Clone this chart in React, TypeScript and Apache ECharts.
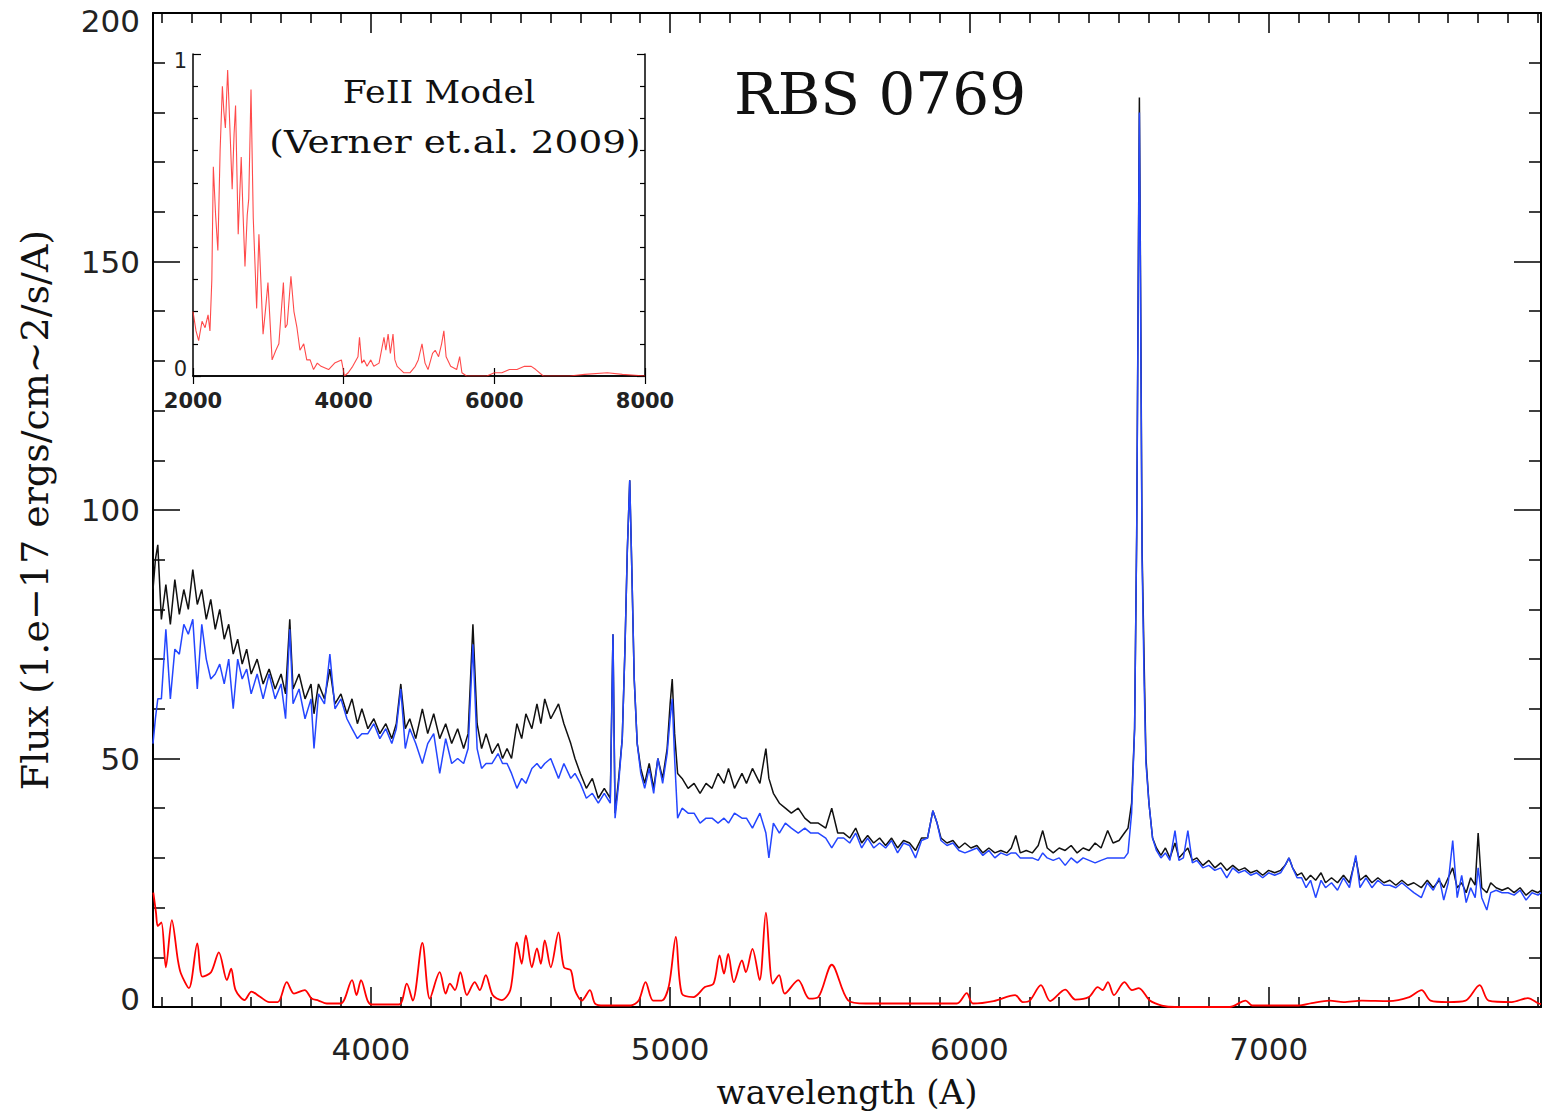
import React, { useEffect, useRef } from "react";
import * as echarts from "echarts";

// Observed spectrum (black) and FeII-subtracted spectrum (blue), flux in 1e-17 erg/cm2/s/A
const wavelength = [
  3272, 3280, 3288, 3300, 3315, 3330, 3345, 3360, 3375, 3390,
  3405, 3420, 3435, 3450, 3465, 3480, 3495, 3510, 3525, 3540,
  3555, 3570, 3585, 3600, 3620, 3640, 3660, 3680, 3700, 3715,
  3729, 3740, 3760, 3780, 3800, 3810, 3825, 3845, 3863, 3880,
  3900, 3920, 3937, 3955, 3970, 3990, 4010, 4030, 4050, 4070,
  4085, 4100, 4115, 4130, 4150, 4172, 4190, 4210, 4230, 4250,
  4270, 4290, 4310, 4325, 4341, 4355, 4370, 4385, 4405, 4425,
  4440, 4455, 4470, 4488, 4504, 4518, 4538, 4555, 4568, 4581,
  4601, 4627, 4645, 4668, 4682, 4700, 4720, 4740, 4760, 4780,
  4800, 4809, 4816, 4828, 4840, 4849, 4857, 4865, 4872, 4880,
  4890, 4902, 4915, 4930, 4945, 4959, 4975, 4990, 5000, 5007,
  5015, 5025, 5040, 5060, 5080, 5100, 5120, 5140, 5160, 5180,
  5195, 5215, 5240, 5255, 5275, 5300, 5320, 5330, 5345, 5365,
  5385, 5405, 5428, 5450, 5470, 5495, 5520, 5540, 5560, 5580,
  5600, 5620, 5640, 5660, 5680, 5700, 5720, 5740, 5760, 5780,
  5800, 5820, 5840, 5860, 5878, 5892, 5905, 5925, 5945, 5965,
  5985, 6005, 6025, 6045, 6065, 6085, 6105, 6125, 6140, 6155,
  6170, 6190, 6210, 6230, 6245, 6260, 6280, 6300, 6320, 6340,
  6360, 6380, 6400, 6420, 6440, 6462, 6480, 6500, 6518, 6530,
  6542, 6552, 6559, 6564, 6568, 6572, 6577, 6584, 6590, 6600,
  6612, 6625, 6640, 6655, 6670, 6687, 6700, 6715, 6730, 6745,
  6760, 6780, 6800, 6820, 6840, 6860, 6880, 6900, 6920, 6940,
  6960, 6980, 7000, 7020, 7040, 7055, 7068, 7080, 7095, 7110,
  7125, 7140, 7157, 7175, 7190, 7210, 7230, 7250, 7270, 7291,
  7305, 7325, 7345, 7365, 7385, 7405, 7425, 7445, 7465, 7485,
  7510, 7530, 7550, 7570, 7585, 7600, 7615, 7630, 7645, 7660,
  7675, 7690, 7700, 7712, 7729, 7742, 7760, 7780, 7800, 7820,
  7840, 7860, 7880, 7900, 7910,
];

const fluxObserved = [
  84, 90, 93, 78, 85, 77, 86, 79, 84, 80,
  88, 81, 84, 78, 82, 76, 80, 74, 77, 71,
  74, 69, 72, 67, 70, 65, 68, 64, 67, 63,
  78, 64, 67, 62, 65, 59, 65, 62, 68, 61,
  63, 59, 62, 57, 60, 56, 58, 55, 57, 54,
  57, 65, 56, 58, 54, 60, 55, 59, 54, 57,
  53, 56, 52, 55, 77, 57, 52, 55, 51, 53,
  50, 52, 50, 57, 54, 59, 56, 61, 57, 62,
  58, 61, 57, 53, 50, 47, 44, 46, 42, 44,
  42, 75, 39, 46, 54, 72, 92, 106, 88, 66,
  53, 48, 45, 49, 44, 50, 46, 52, 61, 66,
  55, 47, 46, 44, 45, 43, 45, 44, 47, 45,
  48, 44, 47, 45, 48, 45, 52, 46, 43, 41,
  40, 39, 40, 38, 37, 37, 36, 40, 35, 35,
  34, 36, 33, 34.5, 33, 34, 32.5, 34, 32, 33.5,
  33, 31.5, 34, 34, 39.5, 37, 34, 33, 33.5, 32,
  33, 32, 32.5, 31, 32, 31, 31.5, 31, 32, 34.5,
  31, 31.5, 31, 32.5, 35.5, 32, 31, 32, 31.5, 32.5,
  31, 32, 31.5, 33, 32, 35.5, 33, 33.5, 35, 36,
  41, 56, 95, 145, 183, 145, 92, 69, 50, 41,
  34, 32, 30.5, 32, 30, 33, 30, 31, 32, 29.5,
  30, 28.5, 29.5, 28, 29, 27.5, 28.5, 27.5, 28, 27,
  27.5, 26.5, 27.5, 27, 27.5, 28.5, 30, 28, 26.5, 27,
  25.5, 26.5, 25.5, 27, 25, 26, 25, 26.5, 25, 30,
  25.5, 26.5, 25, 26, 25, 25.5, 24.5, 25.5, 24.5, 25,
  24, 25.5, 24, 25.5, 24, 26, 28, 24, 25, 23,
  26, 24.5, 35, 24, 23, 25, 24, 23.5, 24, 23,
  24, 22.5, 23.5, 23, 23.5,
];

const fluxSubtracted = [
  53, 58, 62, 62, 76, 62, 72, 71, 77, 75,
  78, 64, 77, 70, 66, 67, 69, 65, 70, 60,
  70, 66, 68, 63, 67, 62, 67, 62, 65, 58,
  76, 61, 64, 58, 62, 52, 63, 61, 71, 60,
  62, 58, 56, 54, 55, 55, 57, 54, 56, 53,
  56, 64, 52, 56, 53, 49, 53, 55, 47, 54,
  49, 50, 49, 52, 73, 52, 48, 49, 49, 51,
  49, 49, 47, 44, 46, 45, 48, 49, 48, 49,
  50, 46, 49, 46, 47, 45, 42, 43, 41, 43,
  41, 75, 38, 45, 54, 72, 92, 106, 88, 66,
  53, 47, 44, 48, 43, 50, 45, 51, 58, 62,
  50, 38, 40, 39, 39, 37, 38, 38, 37, 38,
  37, 39, 38, 38, 36, 39, 35, 30, 37, 35,
  37, 36, 35, 36, 35, 35, 34, 32, 34, 34,
  33, 35, 32, 34, 32, 33, 32, 33.5, 31, 33,
  32.5, 30, 33.5, 34, 39.5, 37, 33.5, 32.5, 33, 31.5,
  31, 31.5, 32, 30.5, 31.5, 30, 31, 30.5, 31, 31,
  30, 30, 30, 29.5, 31, 30, 29.5, 30, 28.5, 30,
  29, 30, 29.5, 29, 29.5, 30, 30, 30, 30, 31,
  39, 56, 95, 143, 180, 142, 90, 65, 49, 41,
  34, 31.5, 30, 31, 29.5, 35.5, 29.5, 30, 35.5, 29,
  29.5, 28, 28.5, 27.5, 28, 26, 28, 27, 27.5, 26.5,
  27, 26, 27, 26.5, 27, 28.5, 30, 28, 26, 26,
  24, 25.5, 22, 25.5, 24, 25, 23.5, 26, 24, 30.5,
  24, 26, 24, 25.5, 24.5, 24.5, 24, 25, 24, 23,
  22, 25, 23.5, 26, 21.5, 25, 33.5, 22, 26.5, 21,
  24, 22, 28, 22, 19.5, 23, 23.5, 23, 23, 22.5,
  23.5, 21.5, 23, 22.5, 23,
];

// FeII template fit (red, bottom of main panel)
const feiiWave = [
  3273, 3282, 3288, 3300, 3315, 3335, 3355, 3365, 3392, 3420,
  3437, 3466, 3492, 3519, 3533, 3548, 3578, 3601, 3631, 3660,
  3689, 3719, 3743, 3779, 3802, 3825, 3853, 3900, 3937, 3952,
  3967, 3989, 4003, 4094, 4120, 4140, 4172, 4197, 4230, 4250,
  4264, 4281, 4299, 4321, 4347, 4364, 4384, 4407, 4437, 4466,
  4488, 4504, 4518, 4538, 4555, 4568, 4581, 4601, 4627, 4645,
  4668, 4682, 4705, 4732, 4749, 4779, 4869, 4895, 4918, 4943,
  4972, 4996, 5019, 5039, 5078, 5116, 5145, 5165, 5180, 5194,
  5213, 5240, 5253, 5275, 5299, 5320, 5343, 5364, 5383, 5428,
  5465, 5495, 5540, 5594, 5654, 5958, 5991, 6012, 6081, 6153,
  6178, 6202, 6239, 6270, 6320, 6354, 6399, 6429, 6445, 6463,
  6483, 6518, 6543, 6566, 6603, 6643, 6687, 6870, 6923, 6945,
  7100, 7144, 7204, 7250, 7311, 7401, 7470, 7511, 7541, 7598,
  7658, 7705, 7735, 7812, 7866, 7902, 7910,
];
const feiiFlux = [
  23, 19, 16.3, 17, 8, 17.5, 9.5, 6.8, 3.8, 12.8,
  6.1, 7, 11, 5.4, 7.7, 3.4, 1.4, 3.1, 2, 1,
  1, 5, 2.7, 3.4, 1.7, 1.3, 0.7, 0.7, 5.4, 2.4,
  5.4, 1.3, 0.5, 0.5, 4.7, 1.3, 12.9, 1.7, 7, 2.7,
  4.7, 3.4, 7, 2.4, 5, 3.4, 6.4, 2.4, 1.4, 3.4,
  13, 8.7, 14.4, 8, 11.8, 8.7, 13.4, 8, 15, 8,
  7.4, 3.4, 1.3, 3.4, 0.7, 0.3, 0.3, 1.3, 5, 1.3,
  1.3, 4.3, 14.1, 2.7, 2, 4, 4.7, 10.4, 6.7, 10.7,
  5, 9.4, 7, 11.7, 5.4, 19, 4.7, 6.4, 2.7, 5.4,
  1.7, 2, 8.5, 1.4, 0.7, 0.7, 2.8, 0.7, 1.2, 2.4,
  1, 1.3, 4.4, 1.2, 3.5, 1.5, 2, 4, 3.4, 5,
  2.4, 5, 3.4, 3.8, 1.3, 0.3, 0, 0, 1.3, 0.3,
  0.3, 0.8, 1.3, 1, 1.3, 1.2, 2, 3.4, 1.3, 1,
  1.3, 4.4, 1.3, 1, 1.8, 0.7, 0.6,
];

// Inset: FeII model (Verner et al. 2009), normalised
const insetWave = [
  2000, 2040, 2075, 2120, 2160, 2200, 2225, 2250, 2270, 2300,
  2330, 2360, 2390, 2410, 2430, 2460, 2490, 2520, 2545, 2565,
  2600, 2640, 2665, 2690, 2720, 2740, 2770, 2800, 2845, 2875,
  2900, 2930, 2960, 2995, 3050, 3100, 3140, 3200, 3225, 3250,
  3300, 3340, 3380, 3420, 3470, 3510, 3555, 3600, 3650, 3700,
  3800, 3880, 3970, 4010, 4060, 4120, 4190, 4210, 4240, 4270,
  4310, 4360, 4400, 4470, 4535, 4560, 4590, 4620, 4655, 4680,
  4710, 4800, 4880, 4950, 4990, 5040, 5080, 5120, 5180, 5215,
  5260, 5300, 5330, 5360, 5420, 5500, 5540, 5570, 5630, 5900,
  6000, 6100, 6200, 6300, 6400, 6490, 6550, 6650, 7000, 7200,
  7500, 7700, 8000,
];
const insetFlux = [
  0.2, 0.14, 0.11, 0.17, 0.15, 0.19, 0.14, 0.3, 0.65, 0.5,
  0.39, 0.7, 0.9, 0.82, 0.77, 0.95, 0.77, 0.58, 0.75, 0.84,
  0.44, 0.68, 0.5, 0.34, 0.5, 0.55, 0.89, 0.49, 0.21, 0.44,
  0.3, 0.13, 0.2, 0.29, 0.05, 0.08, 0.1, 0.29, 0.15, 0.16,
  0.31, 0.2, 0.15, 0.08, 0.1, 0.05, 0.05, 0.02, 0.04, 0.03,
  0.02, 0.04, 0.05, 0.0, 0.01, 0.03, 0.06, 0.12, 0.04, 0.05,
  0.03, 0.05, 0.03, 0.04, 0.12, 0.08, 0.13, 0.07, 0.13, 0.05,
  0.03, 0.01, 0.01, 0.03, 0.05, 0.1, 0.04, 0.02, 0.07, 0.08,
  0.06, 0.1, 0.14, 0.06, 0.03, 0.02, 0.06, 0.01, 0.0, 0.0,
  0.01, 0.01, 0.02, 0.02, 0.03, 0.03, 0.02, 0.0, 0.0, 0.005,
  0.01, 0.005, 0.0,
];

const mainXMajor = [4000, 5000, 6000, 7000];
const mainXMinor = [
  3300, 3400, 3500, 3600, 3700, 3800, 3900,
  4100, 4200, 4300, 4400, 4500, 4600, 4700, 4800, 4900,
  5100, 5200, 5300, 5400, 5500, 5600, 5700, 5800, 5900,
  6100, 6200, 6300, 6400, 6500, 6600, 6700, 6800, 6900,
  7100, 7200, 7300, 7400, 7500, 7600, 7700, 7800, 7900,
];
const X_MIN = 3272;
const X_MAX = 7910;

const pairs = (xs: number[], ys: number[]) => xs.map((x, i) => [x, ys[i]]);
const plain = (v: number) => String(v);

const black = "#000";
const labelFont = "DejaVu Sans";
const serifFont = "DejaVu Serif";

function buildOption(): any {
  const lineW = 2;
  const mainX = (position: "top" | "bottom", minor: boolean, withLabels: boolean) => ({
    type: "value",
    gridIndex: 0,
    position,
    min: X_MIN,
    max: X_MAX,
    axisLine: { show: !minor, lineStyle: { color: black, width: lineW } },
    axisTick: {
      show: true,
      inside: true,
      length: minor ? 10 : 20,
      customValues: minor ? mainXMinor : mainXMajor,
      lineStyle: { color: black, width: 1.5 },
    },
    axisLabel: withLabels
      ? {
          show: true,
          customValues: mainXMajor,
          formatter: plain,
          fontFamily: labelFont,
          fontSize: 31,
          color: "#222",
          margin: 26,
        }
      : { show: false },
    splitLine: { show: false },
    ...(withLabels
      ? {
          name: "wavelength (A)",
          nameLocation: "middle",
          nameGap: 68,
          nameTextStyle: { fontFamily: serifFont, fontSize: 34, color: "#111" },
        }
      : {}),
  });
  const mainY = (position: "left" | "right", withLabels: boolean) => ({
    type: "value",
    gridIndex: 0,
    position,
    min: 0,
    max: 200,
    interval: 50,
    axisLine: { show: true, lineStyle: { color: black, width: lineW } },
    axisTick: { show: true, inside: true, length: 27, lineStyle: { color: black, width: 1.5 } },
    minorTick: { show: true, splitNumber: 5, length: 12, lineStyle: { color: black, width: 1.5 } },
    axisLabel: withLabels
      ? {
          show: true,
          formatter: plain,
          fontFamily: labelFont,
          fontSize: 31,
          lineHeight: 16,
          color: "#222",
          margin: 13,
          verticalAlignMinLabel: "bottom",
          verticalAlignMaxLabel: "top",
        }
      : { show: false },
    splitLine: { show: false },
    minorSplitLine: { show: false },
    ...(withLabels
      ? {
          name: "Flux (1.e\u221217 ergs/cm~2/s/A)",
          nameLocation: "middle",
          nameGap: 99,
          nameRotate: 90,
          nameTextStyle: { fontFamily: serifFont, fontSize: 38, color: "#111" },
        }
      : {}),
  });
  const insetX = (position: "top" | "bottom", withLabels: boolean) => ({
    type: "value",
    gridIndex: 1,
    position,
    min: 2000,
    max: 8000,
    interval: 2000,
    axisLine: { show: true, lineStyle: { color: black, width: 1.5 } },
    axisTick: { show: true, inside: true, length: 8, lineStyle: { color: black, width: 1.2 } },
    axisLabel: withLabels
      ? {
          show: true,
          formatter: plain,
          fontFamily: labelFont,
          fontWeight: "bold",
          fontSize: 21,
          color: "#222",
          margin: 14,
        }
      : { show: false },
    splitLine: { show: false },
  });
  const insetY = (position: "left" | "right", withLabels: boolean) => ({
    type: "value",
    gridIndex: 1,
    position,
    min: 0,
    max: 1,
    interval: 1,
    axisLine: { show: true, lineStyle: { color: black, width: 1.5 } },
    axisTick: { show: true, inside: true, length: 8, lineStyle: { color: black, width: 1.2 } },
    minorTick: { show: true, splitNumber: 10, length: 5, lineStyle: { color: black, width: 1.2 } },
    axisLabel: withLabels
      ? {
          show: true,
          formatter: plain,
          fontFamily: labelFont,
          fontSize: 21,
          lineHeight: 14,
          color: "#222",
          margin: 6,
          verticalAlignMinLabel: "bottom",
          verticalAlignMaxLabel: "top",
        }
      : { show: false },
    splitLine: { show: false },
    minorSplitLine: { show: false },
  });

  return {
    animation: false,
    backgroundColor: "#fff",
    title: {
      text: "RBS 0769",
      left: 729,
      top: 60,
      textStyle: { fontFamily: serifFont, fontSize: 58, fontWeight: "normal", color: "#111" },
    },
    grid: [
      { left: 153, top: 13, width: 1388, height: 995, containLabel: false },
      { left: 193, top: 54, width: 452, height: 322, containLabel: false },
    ],
    xAxis: [
      mainX("bottom", false, true),
      mainX("bottom", true, false),
      mainX("top", false, false),
      mainX("top", true, false),
      insetX("bottom", true),
      insetX("top", false),
    ],
    yAxis: [mainY("left", true), mainY("right", false), insetY("left", true), insetY("right", false)],
    graphic: [
      {
        type: "text",
        x: 439,
        y: 92,
        scaleX: 1.09,
        style: {
          text: "FeII Model",
          fontFamily: serifFont,
          fontSize: 32,
          fill: "#111",
          align: "center",
          verticalAlign: "middle",
        },
      },
      {
        type: "text",
        x: 455,
        y: 142,
        scaleX: 1.17,
        style: {
          text: "(Verner et.al. 2009)",
          fontFamily: serifFont,
          fontSize: 32,
          fill: "#111",
          align: "center",
          verticalAlign: "middle",
        },
      },
    ],
    series: [
      {
        name: "observed",
        type: "line",
        xAxisIndex: 0,
        yAxisIndex: 0,
        data: pairs(wavelength, fluxObserved),
        showSymbol: false,
        symbol: "none",
        silent: true,
        lineStyle: { color: "#111", width: 1.5 },
      },
      {
        name: "FeII subtracted",
        type: "line",
        xAxisIndex: 0,
        yAxisIndex: 0,
        data: pairs(wavelength, fluxSubtracted),
        showSymbol: false,
        symbol: "none",
        silent: true,
        lineStyle: { color: "#2446ff", width: 1.5 },
      },
      {
        name: "FeII fit",
        type: "line",
        xAxisIndex: 0,
        yAxisIndex: 0,
        data: pairs(feiiWave, feiiFlux),
        showSymbol: false,
        symbol: "none",
        silent: true,
        smooth: 0.3,
        lineStyle: { color: "#ff0000", width: 1.8 },
      },
      {
        name: "FeII model",
        type: "line",
        xAxisIndex: 4,
        yAxisIndex: 2,
        data: pairs(insetWave, insetFlux),
        showSymbol: false,
        symbol: "none",
        silent: true,
        lineStyle: { color: "#ff2a2a", width: 1.1, opacity: 0.85 },
      },
    ],
  };
}

export default function App() {
  const ref = useRef<HTMLDivElement>(null);
  useEffect(() => {
    if (!ref.current) return;
    const chart = echarts.init(ref.current, null, { renderer: "svg" });
    chart.setOption(buildOption());
    return () => chart.dispose();
  }, []);
  return (
    <div
      ref={ref}
      style={{ position: "absolute", left: 0, top: 0, width: 1543, height: 1114, background: "#fff" }}
    />
  );
}
